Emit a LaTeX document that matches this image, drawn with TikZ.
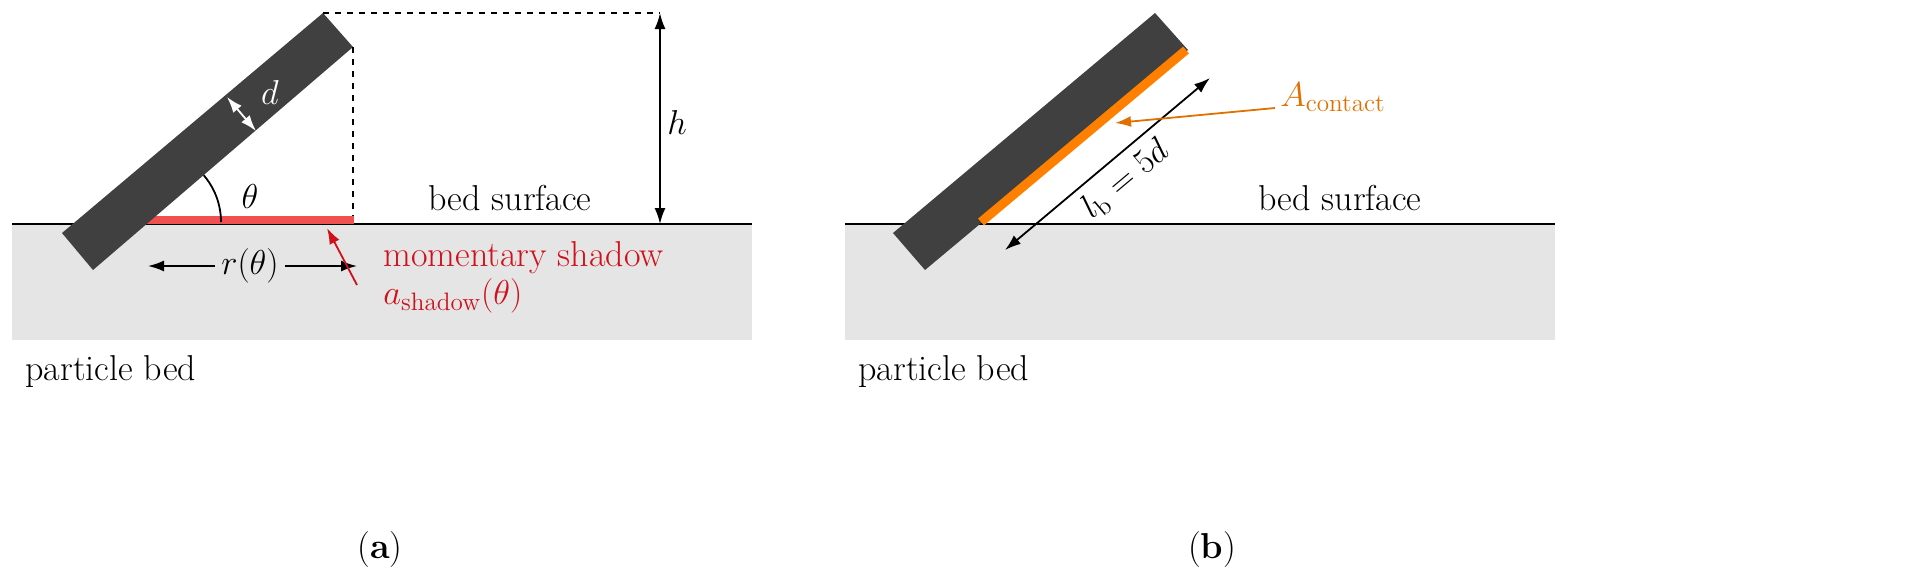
\documentclass[tikz,border=0pt]{standalone}
\usepackage{amsmath}
\usetikzlibrary{arrows.meta}
\definecolor{bar}{HTML}{404040}
\definecolor{bedc}{HTML}{E5E5E5}
\definecolor{shred}{HTML}{F05050}
\definecolor{tred}{HTML}{D0101A}
\definecolor{orng}{HTML}{FF8000}
\definecolor{otxt}{HTML}{E07000}
\begin{document}
\begin{tikzpicture}[x=0.5pt,y=-0.5pt,
  lab/.style={font=\fontsize{18}{22}\selectfont,inner sep=0pt},
  arr/.style={-{Latex[length=8pt,width=5.5pt]},line width=0.9pt},
  darr/.style={{Latex[length=8pt,width=5.5pt]}-{Latex[length=8pt,width=5.5pt]},line width=0.9pt}]
\useasboundingbox (0,0) rectangle (1925,580);
% panel a
\fill[bedc] (12,225) rectangle (752,340);
\draw[line width=1.3pt] (12,224) -- (752,224);
\fill[shred] (145,216) rectangle (354,224);
\fill[bar] (62,233) -- (323,13) -- (353,47) -- (93,270) -- cycle;
\draw[dashed,line width=0.9pt] (323,13) -- (660,13);
\draw[dashed,line width=0.9pt] (353,47) -- (353,216);
\coordinate (ht) at (660,13); \coordinate (hb) at (660,224);
\draw[darr] (ht) -- (hb);
\node[lab] (h) at (677,122) {$h$};
\draw[line width=0.9pt] (221,222) arc (0:-40.5:72);
\node[lab] (th) at (250,196) {$\theta$};
\coordinate (d1) at (227,97); \coordinate (d2) at (256,131);
\draw[darr,white] (d1) -- (d2);
\node[lab,white] (d) at (270,92) {$d$};
\node[lab,fill=bedc,inner xsep=3pt] (r) at (250,266) {$r(\theta)$};
\coordinate (r1) at (148,266); \coordinate (r2) at (357,266);
\draw[arr] (r) -- (r1);
\draw[arr] (r) -- (r2);
\node[lab,tred,anchor=west] (ms) at (383,258) {momentary shadow};
\node[lab,tred,anchor=west] (as) at (383,296) {$a_{\text{shadow}}(\theta)$};
\coordinate (sa) at (357,285); \coordinate (sb) at (327,228);
\draw[arr,tred] (sa) -- (sb);
\node[lab] (bs) at (510,198) {bed surface};
\node[lab,anchor=west] (pb) at (25,372) {particle bed};
\node[lab] (la) at (380,550) {(\textbf{a})};
% panel b
\fill[bedc] (845,225) rectangle (1555,340);
\draw[line width=1.3pt] (845,224) -- (1555,224);
\fill[bar] (893,233) -- (1155,13) -- (1188,50) -- (925,270) -- cycle;
\draw[orng,line width=4.5pt] (981,222) -- (1186,50);
\coordinate (l1) at (1005,250); \coordinate (l2) at (1210,78);
\draw[darr] (l1) -- (l2);
\node[lab,rotate=40,anchor=north] (lb) at (1116,168) {$l_\text{b} = 5d$};
\node[lab,otxt,anchor=west] (ac) at (1280,97) {$A_{\text{contact}}$};
\coordinate (c2) at (1115,123);
\draw[arr,otxt] (1275,108) -- (c2);
\node[lab] (bs2) at (1340,198) {bed surface};
\node[lab,anchor=west] (pb2) at (858,372) {particle bed};
\node[lab] (lbb) at (1212,550) {(\textbf{b})};
\end{tikzpicture}
\end{document}
